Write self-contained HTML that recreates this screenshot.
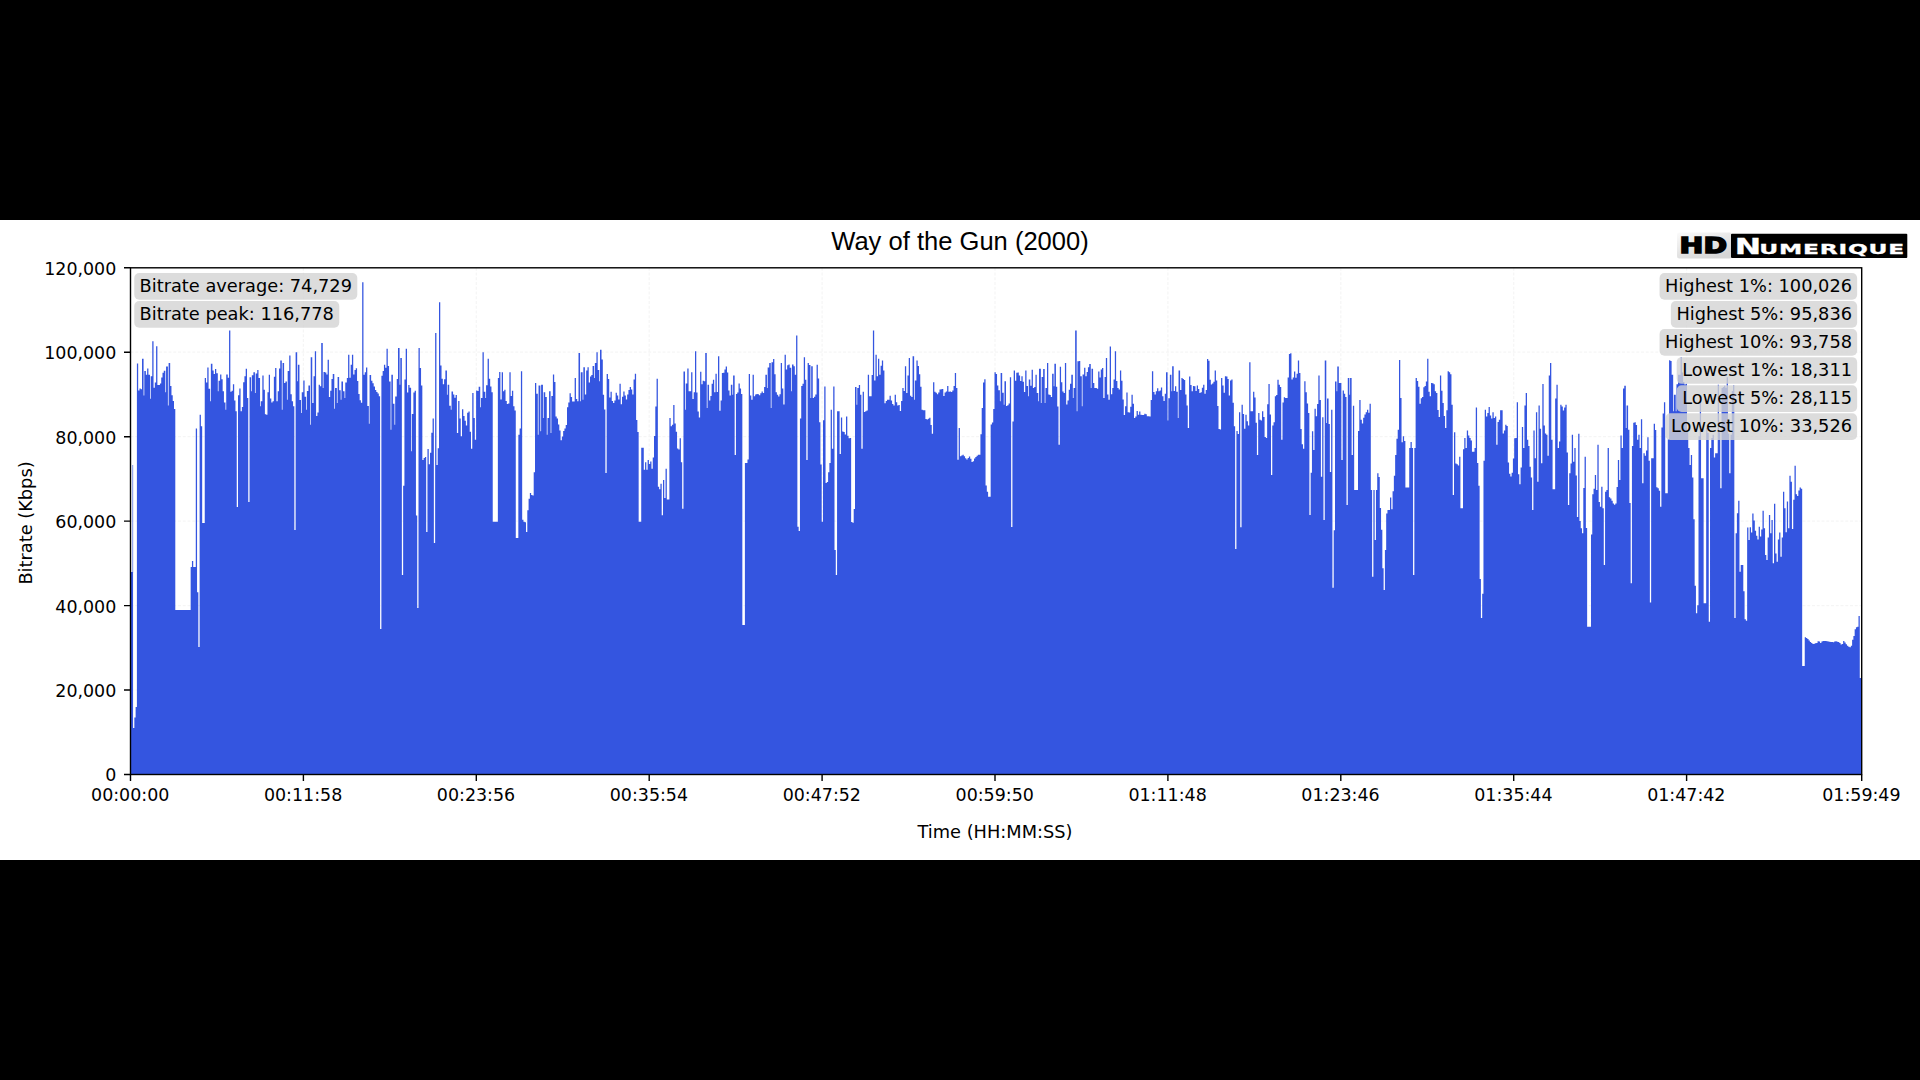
<!DOCTYPE html>
<html lang="en"><head><meta charset="utf-8"><title>Way of the Gun (2000) - Bitrate</title>
<style>
html,body{margin:0;padding:0;background:#000;width:1920px;height:1080px;overflow:hidden}
svg{position:absolute;left:0;top:0;display:block}
text{font-family:"DejaVu Sans","Liberation Sans",sans-serif;fill:#000}
.t{font-size:17.78px}
.k{font-size:17.45px}
.title{font-family:"Liberation Sans",Arial,sans-serif;font-size:25.55px}
.logo{font-family:"Liberation Sans",Arial,sans-serif;font-weight:bold}
</style></head><body>
<svg width="1920" height="1080" viewBox="0 0 1920 1080">
<rect x="0" y="0" width="1920" height="1080" fill="#000"/>
<rect x="0" y="220" width="1920" height="640" fill="#fff"/>
<path d="M130.5,690.0H1861.7M130.5,605.6H1861.7M130.5,521.1H1861.7M130.5,436.7H1861.7M130.5,352.2H1861.7M303.4,267.8V774.5M476.3,267.8V774.5M649.2,267.8V774.5M822.1,267.8V774.5M995.0,267.8V774.5M1167.9,267.8V774.5M1340.8,267.8V774.5M1513.7,267.8V774.5M1686.6,267.8V774.5" stroke="#a0a0a0" stroke-opacity="0.10" stroke-width="1.2" stroke-dasharray="3,1.75" fill="none"/>
<defs><clipPath id="axclip"><rect x="130.5" y="267.8" width="1731.2" height="506.7"/></clipPath></defs>
<g clip-path="url(#axclip)"><path d="M130.5,774.5V572H133.06V728H134.34V717.5H135.62V707H136.9V363.4H138.18V390.4H139.46V388.6H140.74V389.2H142.02V358.8H143.58V395.5H144.3V370.9H145.86V374.8H147.14V368.6H148.42V374.7H149.98V398.8H150.7V376.3H152.26V341.3H153.54V387.7H154.82V382.6H156.1V346.3H157.38V385H158.66V385.1H159.94V383.4H161.22V377.6H162.5V372.8H163.78V370.7H165.34V392.2H166.06V366.5H167.9V405.5H168.62V363H170.18V386.1H171.46V395.2H172.74V401H174.02V409.1H175.3V610H190.66V567H191.94V561H193.22V567H195.78V428.5H197.06V592.2H198.34V647H199.62V414.7H200.9V426.3H202.18V523H204.74V378.1H206.02V382.5H207.3V367.6H208.58V388.8H210.14V401.3H210.86V363.7H212.42V370.5H213.7V374.1H214.98V368.9H216.26V373.2H217.82V391.3H218.54V380.8H220.1V374.5H221.38V379.3H222.66V391.3H223.94V402.5H225.5V409.7H226.22V374.5H227.78V377.8H229.06V330.5H230.34V391.7H231.62V390.8H232.9V384.3H234.18V400.5H235.46V411.3H236.74V507H238.02V395.2H239.3V388.5H240.58V411.2H241.86V407H243.14V382.3H244.42V376.2H245.7V368.8H246.98V398H248.26V502H249.54V377.3H251.1V391.3H251.82V375.3H253.38V372.2H254.94V393H255.66V373.6H257.22V370H258.5V378.1H260.06V406.3H260.78V401.3H262.34V375.5H263.62V389.7H264.9V414.2H266.18V414.8H267.46V392.2H268.74V374.7H270.02V398.4H271.3V402.6H272.58V401.2H273.86V376.8H275.14V367.9H276.42V401.2H277.7V391.3H278.98V368.4H280.26V360.6H281.82V409.7H282.54V363H284.1V382.9H285.38V381.4H286.94V399.7H287.66V371.1H289.22V355.6H290.5V394.2H291.78V401.2H293.06V406.3H294.34V530H295.62V352.2H297.18V381.3H297.9V364.7H299.46V399.9H301.02V413H301.74V392.2H303.3V380.5H304.58V396.8H306.14V409.7H306.86V390.9H308.42V385.5H309.98V424.7H310.7V357.2H312.26V402.9H313.54V376.3H314.82V351.3H316.1V416H317.38V412.4H318.66V384.8H319.94V386.2H321.22V343H322.78V388H323.5V372H325.06V372.4H326.34V374.5H327.62V359.7H328.9V396.9H330.18V390.7H331.46V378.9H332.74V373.9H334.3V408.8H335.02V388H336.86V403H337.58V376.9H339.14V390.3H340.7V399.7H341.42V381.5H342.98V391.3H344.54V398H345.26V382.6H346.82V378H348.1V354.7H349.38V377.8H350.66V364.7H351.94V354.7H353.22V374.5H354.5V370H355.78V368.2H357.06V380.9H358.34V393.9H359.62V400.3H360.9V402.8H362.18V282.2H363.46V374.7H364.74V372.3H366.02V367.6H367.3V406H368.86V423.8H369.58V375H371.14V380.8H372.42V383.2H373.7V386.5H374.98V389.9H376.26V391.9H377.54V393.6H378.82V396.3H380.1V629H381.38V375.8H382.66V371.1H383.94V364.8H385.22V367.8H386.5V348.8H387.78V366.1H389.06V381.5H390.62V429.7H391.34V374.7H392.9V403.7H394.46V424.7H395.18V396.4H396.74V379.1H398.02V348H399.58V384.7H400.3V358H401.86V575H403.14V485.7H404.42V379.4H405.7V348.8H406.98V392.6H408.26V384.9H409.54V387.8H411.1V451.3H411.82V414H413.38V392.6H414.66V390.7H415.94V515.5H417.22V608H418.5V348H419.78V368H421.06V385.4H422.34V459.9H423.62V458.1H424.9V457.1H426.18V532H427.46V449H428.74V464.3H430.02V452.8H431.3V432.7H432.58V418.4H433.86V543H435.14V333H436.42V465H437.7V448.3H438.98V302.2H440.26V365.4H441.54V378.7H442.82V384.3H444.1V379.3H445.38V370.4H446.94V394.7H447.66V384.7H449.22V405.7H450.78V409.7H451.5V391.4H453.06V394.6H454.34V397.8H455.62V394.9H456.9V433.1H458.18V401H459.46V418.5H460.74V436.3H462.02V409.2H463.3V415.9H464.58V420.8H465.86V425.6H467.14V412.7H468.42V411.6H469.7V431.8H470.98V448.8H472.26V393H473.54V417.9H474.82V439.7H476.1V390.6H477.38V391H478.66V386.7H480.22V407.2H480.94V398H482.5V352.2H483.78V391.7H485.34V398H486.06V385.3H487.62V358.8H488.9V378.7H490.18V386.6H491.46V392.2H492.74V521.7H497.86V378.1H499.14V371.9H500.42V399.5H501.7V372.2H502.98V391.2H504.26V389.8H505.54V400.9H506.82V404.1H508.1V403.4H509.38V372.2H510.66V396H511.94V390.8H513.22V406.3H514.5V410.4H515.78V538H518.34V434.7H519.62V428.5H520.9V371.3H522.18V519.7H523.46V521.8H524.74V522.3H526.02V532H527.3V510.2H528.58V498.8H529.86V493.1H531.14V494.9H532.42V495.4H533.7V472.2H534.98V383H536.26V393.8H537.82V434.7H538.54V385.5H540.38V431.3H541.1V384.7H542.94V418H543.66V392.3H545.22V396.9H546.78V434.7H547.5V418H549.06V391.3H550.62V433H551.34V395.9H552.9V374.5H554.18V382.1H555.46V416.5H556.74V418.4H558.02V424.6H559.3V430.5H560.58V440.3H561.86V436.5H563.14V431H564.42V428.5H565.7V425H566.98V407.3H568.26V402.5H569.54V393.2H570.82V397H572.1V401.5H574.66V378H575.94V399.1H577.22V401.3H578.5V353H580.06V401.3H580.78V372.2H582.62V399.7H583.34V367.2H584.9V394.5H586.18V370.4H587.46V367.2H588.74V382.4H590.02V376.4H591.3V375.1H592.58V366H594.14V378H594.86V362.9H596.42V352.3H597.7V370.1H599.26V381.3H599.98V349.7H601.54V359.5H602.82V394.7H604.1V409.5H605.38V473H606.66V373.9H607.94V379H609.22V397.5H610.5V391.8H611.78V400.9H613.06V403H614.34V400.5H615.62V392.7H616.9V395.4H618.18V399.6H619.46V383.8H620.74V404.2H622.02V396.8H623.3V391.6H624.58V395.6H625.86V399.4H627.14V394.5H628.42V390H629.7V387.1H630.98V389.5H632.26V394.5H633.54V379.6H634.82V373.8H636.1V419.9H637.38V431.9H638.66V521.7H641.22V447.7H643.78V469.8H645.06V462.3H646.34V469.8H647.62V460H648.9V464.1H650.18V461.5H651.46V468.8H652.74V457.6H654.02V436H655.3V406.5H656.58V378.8H657.86V486.8H659.14V489.2H660.42V483.7H661.7V515.2H662.98V480H664.26V498H665.54V468.8H666.82V499.5H669.38V418H670.66V426.2H671.94V424.8H673.22V405.1H674.5V423.6H675.78V431.7H677.06V448.6H678.34V449.4H679.62V438.3H680.9V462.3H682.18V508.7H683.46V371.4H685.02V409.7H685.74V383.4H687.3V368.4H688.58V391.3H691.14V372.2H692.42V399.1H693.7V392.3H694.98V351.3H696.26V392.6H697.54V411.5H698.82V417.4H700.1V371.8H701.38V384.3H702.66V380.7H703.94V381.2H705.22V353H706.78V408H707.5V384.7H709.06V400.4H710.34V395.9H711.62V383.7H712.9V379.7H714.18V392.2H715.46V373.8H716.74V392.1H718.02V356.3H719.3V410.7H720.58V400.5H721.86V373.1H723.14V372.8H724.42V369.6H725.7V366.5H726.98V372.6H728.26V390.4H729.54V395.4H730.82V384.7H732.38V394.7H733.1V375.5H734.66V455H735.94V394.1H737.22V392.6H738.5V383.5H739.78V388.4H741.06V394H742.34V625H744.9V463H747.46V459.5H748.74V373.9H750.02V395.4H751.3V399.7H752.58V374.7H753.86V396.2H755.14V394.6H756.42V394H757.7V394.3H758.98V395.3H760.26V393.2H761.54V391.4H762.82V392.9H764.1V386.9H765.38V374.7H766.94V388H767.66V367.6H769.22V363.1H770.78V408H771.5V362.3H773.06V359.1H774.34V374.3H775.62V392.2H776.9V394.8H778.18V396.5H779.46V394.3H780.74V363H782.02V388.5H783.3V404.6H784.58V354.7H785.86V369.5H787.14V365.3H788.42V364.4H789.7V367.7H791.26V391.3H791.98V364.4H793.54V366.2H794.82V374.7H796.1V335.5H797.38V526.8H798.66V531H799.94V418.4H801.22V386H802.5V383.8H803.78V357.2H805.06V379.7H806.34V460H807.62V363.1H808.9V365H810.46V398H811.18V366.3H812.74V397.9H814.02V396.8H815.3V394.5H816.58V364.7H817.86V378.4H819.14V422.2H820.42V464.4H821.7V521.7H822.98V420.2H824.26V386.6H825.54V483H826.82V482.1H828.1V472.3H829.38V463H830.66V409.8H831.94V448.8H833.22V386.5H834.5V549.9H835.78V575H837.06V411.3H839.62V454H840.9V417.4H842.18V431.4H843.46V432.1H844.74V434.5H846.02V416.4H847.3V435.7H848.58V438.3H849.86V438.1H851.14V521.9H852.42V522.7H853.7V509H854.98V387.1H856.54V404.7H857.26V388H858.82V384.9H860.1V394.7H861.38V448.8H862.66V391.7H863.94V412.1H865.22V411.3H866.5V410.5H867.78V374.7H869.06V396.3H871.62V375H872.9V330.5H874.18V380.5H875.46V354.7H876.74V376.2H878.02V358.8H879.3V374.7H880.58V365.8H881.86V360.5H883.14V370.4H884.42V403.3H885.7V400.9H886.98V399.7H889.54V395.8H890.82V400.6H892.1V404H893.38V405.4H894.66V394.7H895.94V402.2H897.22V405.4H898.5V405.1H899.78V411.1H901.06V400.9H902.34V388.1H903.62V391.1H904.9V366.3H906.18V392.9H907.46V375.5H908.74V358.1H910.02V395.8H911.3V397.1H912.58V356.3H914.14V399.7H914.86V380.6H916.42V360.5H917.7V365.9H918.98V374.3H920.26V386.7H921.54V409.7H922.82V410.3H925.38V419H926.66V419.5H927.94V418.7H929.22V417.8H930.5V425.1H931.78V433.8H933.06V382.2H934.34V391.7H935.62V392.8H936.9V394.2H938.18V392.5H939.46V389.4H940.74V389.2H942.02V388.9H943.3V396H944.58V392.5H945.86V391.4H947.14V385.9H948.42V391.7H949.7V391.4H950.98V392.1H952.26V390.6H953.54V386.1H954.82V373H956.1V388H957.38V459.7H958.66V428H959.94V456.3H961.22V455.5H962.5V454.7H963.78V456.3H965.06V458.3H966.34V459.6H967.62V458.1H968.9V456.4H970.18V458.8H971.46V461.9H972.74V461.2H974.02V458.5H975.3V457.1H976.58V455.8H977.86V454.7H980.42V434.3H981.7V408.1H982.98V382.4H984.26V379.2H985.54V485.6H986.82V491.7H988.1V496.7H990.66V424.5H991.94V422.6H993.22V409.1H994.5V372.3H995.78V374.1H997.06V385.5H998.34V390.2H999.9V401.3H1000.62V373H1002.18V392.8H1003.74V404.7H1004.46V381.3H1006.02V406H1007.3V405.3H1008.58V403.4H1009.86V377.2H1011.14V527H1012.42V421.6H1013.7V370.6H1014.98V380.8H1016.26V372.8H1017.54V372.5H1018.82V375.4H1020.1V381H1021.38V376.3H1022.66V381.7H1023.94V391.9H1025.22V370.5H1026.5V386.1H1028.06V396.3H1028.78V379.4H1030.34V385.8H1031.62V369.7H1032.9V387.9H1034.18V387.1H1035.46V374.7H1036.74V393H1038.3V401.3H1039.02V368.8H1040.86V403H1041.58V377.1H1043.14V368.9H1044.7V403H1045.42V388H1046.98V363H1048.26V394.5H1049.54V395.1H1050.82V396.9H1052.1V373.8H1053.66V386.3H1054.38V363.8H1055.94V386.8H1057.22V406.6H1058.5V444.7H1059.78V366.8H1061.06V382.3H1062.34V391.4H1063.62V392.9H1064.9V363H1066.18V404.4H1067.46V400.5H1068.74V389.7H1070.02V383.7H1071.3V374.7H1072.86V398H1073.58V388H1075.14V330.5H1076.7V411.3H1077.42V361.3H1078.98V361H1080.26V376.3H1081.82V406.3H1082.54V374.5H1084.1V367.8H1085.38V376.2H1086.66V371.9H1087.94V367.2H1089.22V364.1H1090.78V388H1091.5V368.7H1093.06V383H1094.34V388H1096.9V388.8H1098.18V371.4H1099.46V377.5H1100.74V369.5H1102.02V368.1H1103.3V398H1104.58V377H1105.86V358.1H1107.14V394.6H1108.42V399.7H1109.7V346.4H1110.98V394.2H1112.26V388.1H1113.54V379.5H1114.82V351.3H1116.1V380.9H1117.38V388.1H1118.66V389.5H1119.94V370.5H1121.22V380.8H1122.5V399.5H1123.78V415H1125.06V406.3H1126.34V392.4H1127.62V412.2H1128.9V412.4H1130.18V406.7H1131.46V394.7H1132.74V403.8H1134.02V417.9H1135.3V416.5H1136.58V411H1137.86V414.8H1139.14V411.6H1140.42V414.7H1141.7V414.9H1142.98V415H1144.26V413.7H1145.54V414.2H1146.82V416.3H1149.38V416.6H1150.66V400.1H1151.94V371.3H1153.22V391.9H1154.5V394.5H1155.78V391.3H1157.06V388.2H1158.34V391.3H1159.62V390.4H1160.9V387.5H1162.18V396.2H1163.46V401.1H1164.74V393.7H1166.02V372.2H1167.58V420.5H1168.3V398.2H1169.86V374.7H1171.42V391.3H1172.14V366.3H1173.7V391H1174.98V386.3H1176.26V391.7H1177.82V418H1178.54V370.5H1180.1V390.1H1181.38V378.1H1182.66V379.1H1183.94V380H1185.22V394.4H1186.5V405.5H1187.78V427.9H1189.06V376.4H1190.34V385H1191.62V391.2H1192.9V385.9H1194.18V386.3H1195.46V391H1196.74V385.6H1198.02V389.1H1199.3V392.9H1200.58V392.2H1201.86V387.8H1203.14V384.7H1204.42V393.8H1205.7V389.9H1206.98V359H1208.26V360.8H1209.54V379.7H1210.82V384.6H1212.1V383.4H1213.38V381.8H1214.66V370.5H1215.94V380.4H1217.22V405.9H1218.5V429.1H1219.78V429.4H1221.06V378.1H1222.34V385.6H1223.62V392.7H1224.9V376.3H1226.18V376.5H1227.46V378.9H1228.74V395.4H1230.02V380.5H1231.3V379.6H1232.58V402.8H1233.86V426.3H1235.14V549H1236.42V431H1237.7V434.1H1238.98V412.2H1240.26V527.3H1241.54V404.7H1242.82V413.9H1244.1V428.8H1245.38V414.7H1246.66V421.2H1247.94V425.4H1249.22V362.2H1250.5V411.3H1253.06V391.8H1254.34V397.4H1255.62V422.7H1256.9V455H1258.18V413H1259.46V419.7H1260.74V420.4H1262.02V411.3H1263.3V417H1264.58V437H1265.86V438H1267.14V404.3H1268.42V383.9H1269.7V414.4H1270.98V475H1272.26V425.6H1273.54V422.2H1274.82V396.3H1276.1V394.9H1277.38V379.7H1278.66V384.7H1279.94V387H1281.22V439.7H1282.5V402.5H1283.78V397.2H1285.06V397.9H1286.34V398H1287.62V377.6H1288.9V353.9H1290.18V353.2H1291.46V379.6H1292.74V377.4H1294.02V371.4H1295.3V377.7H1296.58V373.7H1297.86V360.6H1299.14V373H1300.42V429H1301.7V444.2H1302.98V448.8H1304.26V381.3H1305.54V392.2H1306.82V403.4H1308.1V412.9H1309.38V515H1310.66V472.8H1311.94V431.3H1313.22V450H1314.5V408.8H1315.78V416.3H1317.06V404.1H1318.34V375.6H1319.62V400.1H1320.9V476.7H1322.18V417.2H1323.46V520H1324.74V360.6H1326.3V423H1327.02V398.4H1328.58V424H1329.86V472H1331.14V409.7H1332.42V587.8H1333.7V530.2H1334.98V381.4H1336.54V391.3H1337.26V366.4H1338.82V383H1341.38V460H1342.66V390.6H1343.94V393.8H1345.22V397.1H1346.5V505H1347.78V378H1349.34V394.7H1350.06V378H1351.62V455H1352.9V405.7H1354.18V490H1358.02V431H1359.3V400.1H1360.58V419.8H1361.86V423.4H1363.14V417.8H1364.42V414.6H1365.7V412.2H1366.98V409.8H1368.26V412.7H1369.54V403.8H1370.82V490H1372.1V576.7H1373.38V490H1374.66V540H1375.94V490H1377.22V473.3H1378.5V476.9H1379.78V507.9H1381.06V529.7H1382.34V568.3H1383.62V590H1384.9V550H1386.18V513.5H1387.46V510H1390.02V497.6H1391.3V509.3H1392.58V491.3H1393.86V475.8H1395.14V454.9H1396.42V438.8H1397.7V429.7H1398.98V359.9H1400.26V398H1401.54V442.2H1402.82V436.3H1404.1V441H1405.38V487.5H1409.22V448H1410.5V441.9H1411.78V448H1413.06V575H1414.34V448H1415.62V378H1416.9V380.9H1418.18V386.7H1419.46V403.8H1420.74V398.2H1422.02V397.1H1423.3V387.2H1424.58V386.1H1425.86V381.5H1427.14V358.8H1428.42V391.7H1429.7V396.2H1430.98V383H1432.26V383.3H1433.54V384.3H1434.82V391.3H1436.1V392.9H1437.38V410H1438.66V417.1H1439.94V375.6H1441.22V390.7H1442.5V403H1443.78V415.9H1445.06V428H1446.34V410.3H1447.62V371.3H1448.9V372.2H1450.18V374.3H1451.46V404.8H1452.74V495H1454.02V432.2H1455.3V463.4H1456.58V464.3H1457.86V465.4H1459.14V456.7H1460.42V508.3H1462.98V449.2H1464.26V438H1465.54V448H1466.82V430.6H1468.1V435.5H1469.38V438H1470.66V440.5H1471.94V451.7H1474.5V448H1475.78V407.6H1477.06V463.1H1478.34V485.8H1479.62V579H1480.9V618H1482.18V593.8H1483.46V460.8H1484.74V409.7H1486.02V416.4H1487.3V413.1H1488.58V407.1H1489.86V415.6H1491.14V418.6H1492.42V412.2H1493.7V417.9H1494.98V416.5H1496.26V444.7H1497.54V421.9H1498.82V419.7H1500.1V410.3H1502.66V433.4H1503.94V430.6H1505.22V424.7H1506.5V426.1H1507.78V462.4H1509.06V473.7H1510.34V476.6H1511.62V472.7H1512.9V458.5H1514.18V438.3H1515.46V438H1516.74V402.2H1518.02V474.2H1519.3V484.2H1520.58V467.4H1521.86V427H1523.14V448H1524.42V405.4H1525.7V393.1H1526.98V439.7H1528.26V445.9H1529.54V466.7H1530.82V477.5H1532.1V510H1533.38V430.5H1534.66V458.3H1535.94V412.2H1537.22V481.7H1538.5V405.6H1539.78V428.8H1541.06V463.3H1542.34V383.9H1543.62V425.6H1544.9V433.6H1546.18V434.7H1547.46V455.8H1548.74V375.6H1550.02V363H1551.3V439.7H1552.58V489.2H1555.14V398.6H1556.42V384.7H1557.7V448H1558.98V441.4H1560.26V404.7H1561.54V406.5H1562.82V410.4H1564.1V407.4H1565.38V404.7H1566.66V452.5H1567.94V505H1569.22V473.3H1570.5V463.6H1571.78V434.7H1573.06V461.7H1574.34V448H1575.62V475.4H1576.9V516.9H1578.18V433.8H1579.46V521.1H1580.74V528.3H1582.02V533.3H1583.3V487.9H1584.58V456.7H1585.86V527.9H1587.14V626.7H1590.98V534.6H1592.26V494.2H1593.54V488.8H1594.82V475H1596.1V490H1597.38V444.7H1598.66V501.9H1599.94V506.7H1601.22V486.7H1602.5V508.3H1603.78V565H1605.06V491.8H1606.34V490H1607.62V448H1608.9V497.3H1610.18V498.5H1611.46V500.8H1612.74V503.5H1614.02V504.7H1615.3V503.6H1616.58V487.1H1617.86V460H1619.14V480H1620.42V435.5H1621.7V448H1622.98V388.6H1624.26V385.7H1625.82V428H1626.54V405.6H1628.1V429.7H1629.38V503.1H1630.66V583.3H1631.94V446.1H1633.22V422.8H1634.5V422.3H1635.78V425.1H1637.06V439.7H1638.34V434.7H1639.62V448H1640.9V419.2H1642.18V483.3H1643.46V453.3H1644.74V455.8H1646.02V450.4H1647.3V437.2H1648.58V460.8H1649.86V602.5H1651.14V458.3H1653.7V423.8H1654.98V429.9H1656.26V487.2H1657.54V488.3H1658.82V490.8H1660.1V506.7H1661.38V427.4H1662.66V413.6H1663.94V402.2H1665.22V493.3H1667.78V439.3H1669.06V360.2H1670.34V360.9H1671.62V374.7H1673.18V411.3H1673.9V394.7H1675.74V411.3H1676.46V384.2H1678.02V374.7H1680.58V357.2H1681.86V372.6H1683.14V382H1684.42V384.5H1685.7V383.8H1686.98V432.2H1688.26V448H1689.54V465H1690.82V455H1692.1V477.5H1693.38V519.2H1694.66V585.8H1695.94V613.3H1697.22V605.3H1698.5V436.3H1699.78V401.3H1701.06V478.3H1703.62V603.3H1706.18V428H1707.46V433H1708.74V621.7H1710.02V448H1711.3V438H1712.58V434.7H1713.86V457.5H1715.14V453.3H1717.7V384.7H1718.98V432.2H1720.26V488.2H1721.54V388H1722.82V387H1724.1V385.8H1725.38V387.8H1726.66V377.2H1727.94V433.4H1729.22V473.3H1730.5V434.7H1731.78V390.9H1733.06V385.3H1734.34V618H1735.62V533.3H1736.9V513.3H1738.18V500.8H1739.46V571.7H1740.74V565H1743.3V591.2H1744.58V619.2H1745.86V620.8H1747.14V527.6H1748.42V540H1749.7V527.2H1750.98V532.5H1752.26V513.5H1753.54V520.4H1754.82V530.8H1756.1V535.7H1757.38V539.5H1758.66V526.7H1759.94V536.6H1761.22V529.4H1762.5V510.8H1763.78V528.3H1765.06V555H1766.34V560H1767.62V537.5H1768.9V515.1H1770.18V533.3H1771.46V520H1772.74V563.3H1774.02V503.8H1775.3V553.6H1776.58V561.7H1777.86V539.4H1779.14V532.6H1780.42V556.7H1781.7V537.6H1782.98V491.8H1784.26V508.3H1785.54V532.2H1786.82V501.6H1788.1V528.3H1789.38V475.8H1790.66V481.7H1791.94V529.1H1793.22V499.7H1794.5V465.8H1795.78V494.2H1797.06V496H1798.34V490.4H1799.62V487.6H1800.9V488.8H1802.18V666H1804.74V637.2H1806.02V638.1H1807.3V639.1H1808.58V640.5H1809.86V641.9H1811.14V643H1812.42V644H1813.7V643.8H1814.98V643.3H1816.26V642.9H1817.54V641.2H1818.82V641.6H1820.1V643.1H1821.38V641.6H1822.66V641H1826.5V641.2H1827.78V641.5H1829.06V641.8H1830.34V642H1831.62V642.1H1832.9V642.3H1834.18V641.4H1835.46V641.2H1836.74V641.7H1838.02V642.1H1839.3V643H1840.58V644.6H1841.86V644.1H1843.14V641.1H1844.42V642.6H1845.7V644.3H1846.98V645.7H1848.26V646.7H1849.54V647.3H1850.82V645.8H1852.1V639.8H1853.38V635.9H1854.66V629.3H1855.94V627.3H1857.22V626.7H1858.5V616H1859.78V678H1861.7V774.5Z" fill="#3455e0"/></g>
<rect x="132.1" y="465" width="1.1" height="107.5" fill="#3455e0" fill-opacity="0.55"/>
<rect x="130.5" y="267.8" width="1731.2" height="506.7" fill="none" stroke="#000" stroke-width="1.4"/>
<path d="M130.5,774.5h-6.5M130.5,690.0h-6.5M130.5,605.6h-6.5M130.5,521.1h-6.5M130.5,436.7h-6.5M130.5,352.2h-6.5M130.5,267.8h-6.5M130.5,774.5v6.5M303.4,774.5v6.5M476.3,774.5v6.5M649.2,774.5v6.5M822.1,774.5v6.5M995.0,774.5v6.5M1167.9,774.5v6.5M1340.8,774.5v6.5M1513.7,774.5v6.5M1686.6,774.5v6.5M1861.7,774.5v6.5" stroke="#000" stroke-width="1.4" fill="none"/>
<text class="k" x="116.3" y="781.4" text-anchor="end">0</text>
<text class="k" x="116.3" y="696.9" text-anchor="end">20,000</text>
<text class="k" x="116.3" y="612.5" text-anchor="end">40,000</text>
<text class="k" x="116.3" y="528.0" text-anchor="end">60,000</text>
<text class="k" x="116.3" y="443.6" text-anchor="end">80,000</text>
<text class="k" x="116.3" y="359.1" text-anchor="end">100,000</text>
<text class="k" x="116.3" y="274.7" text-anchor="end">120,000</text>
<text class="k" x="130.2" y="800.8" text-anchor="middle">00:00:00</text>
<text class="k" x="303.1" y="800.8" text-anchor="middle">00:11:58</text>
<text class="k" x="476.0" y="800.8" text-anchor="middle">00:23:56</text>
<text class="k" x="648.9" y="800.8" text-anchor="middle">00:35:54</text>
<text class="k" x="821.8" y="800.8" text-anchor="middle">00:47:52</text>
<text class="k" x="994.7" y="800.8" text-anchor="middle">00:59:50</text>
<text class="k" x="1167.6" y="800.8" text-anchor="middle">01:11:48</text>
<text class="k" x="1340.5" y="800.8" text-anchor="middle">01:23:46</text>
<text class="k" x="1513.4" y="800.8" text-anchor="middle">01:35:44</text>
<text class="k" x="1686.3" y="800.8" text-anchor="middle">01:47:42</text>
<text class="k" x="1861.4" y="800.8" text-anchor="middle">01:59:49</text>
<text class="t" x="995" y="838" text-anchor="middle">Time (HH:MM:SS)</text>
<text class="t" transform="translate(31.5,523) rotate(-90)" text-anchor="middle">Bitrate (Kbps)</text>
<text class="title" x="960" y="249.8" text-anchor="middle">Way of the Gun (2000)</text>
<rect x="134.27" y="273.00" width="223.02" height="26.7" rx="5" fill="#d3d3d3" fill-opacity="0.8"/>
<text id="lt0" class="t" x="139.6" y="291.50">Bitrate average: 74,729</text>
<rect x="134.27" y="301.05" width="204.97" height="26.7" rx="5" fill="#d3d3d3" fill-opacity="0.8"/>
<text id="lt1" class="t" x="139.6" y="319.55">Bitrate peak: 116,778</text>
<rect x="1659.55" y="273.00" width="197.58" height="26.7" rx="5" fill="#d3d3d3" fill-opacity="0.8"/>
<text id="rt0" class="t" x="1852.0" y="291.50" text-anchor="end">Highest 1%: 100,026</text>
<rect x="1670.86" y="301.05" width="186.27" height="26.7" rx="5" fill="#d3d3d3" fill-opacity="0.8"/>
<text id="rt1" class="t" x="1852.0" y="319.55" text-anchor="end">Highest 5%: 95,836</text>
<rect x="1659.55" y="329.10" width="197.58" height="26.7" rx="5" fill="#d3d3d3" fill-opacity="0.8"/>
<text id="rt2" class="t" x="1852.0" y="347.60" text-anchor="end">Highest 10%: 93,758</text>
<rect x="1676.70" y="357.15" width="180.43" height="26.7" rx="5" fill="#d3d3d3" fill-opacity="0.8"/>
<text id="rt3" class="t" x="1852.0" y="375.65" text-anchor="end">Lowest 1%: 18,311</text>
<rect x="1676.70" y="385.20" width="180.43" height="26.7" rx="5" fill="#d3d3d3" fill-opacity="0.8"/>
<text id="rt4" class="t" x="1852.0" y="403.70" text-anchor="end">Lowest 5%: 28,115</text>
<rect x="1665.39" y="413.25" width="191.74" height="26.7" rx="5" fill="#d3d3d3" fill-opacity="0.8"/>
<text id="rt5" class="t" x="1852.0" y="431.75" text-anchor="end">Lowest 10%: 33,526</text>
<defs><linearGradient id="lg" x1="0" y1="0" x2="0.6" y2="1"><stop offset="0" stop-color="#fbfbfb"/><stop offset="1" stop-color="#d6d6d6"/></linearGradient></defs>
<g id="logo">
<rect x="1677" y="232.6" width="55" height="26" rx="2.5" fill="url(#lg)"/>
<rect x="1731" y="233.7" width="176.3" height="24.4" rx="1" fill="#000"/>
<text transform="translate(1679.6,253.4) scale(1.33,1)" font-family="DejaVu Sans, Liberation Sans, sans-serif" font-weight="bold" font-size="21.4" stroke="#000" stroke-width="1.5" style="fill:#000">HD</text>
<text transform="translate(1734.8,254) scale(1.6,1)" font-weight="bold" stroke="#fff" stroke-width="0.3" style="fill:#fff"><tspan font-family="DejaVu Sans Condensed, DejaVu Sans, Liberation Sans, sans-serif" font-size="21.9">N</tspan><tspan font-family="DejaVu Sans, Liberation Sans, sans-serif" font-size="14.6" dx="-1.2" letter-spacing="0.48">UMERIQUE</tspan></text>
</g>
</svg></body></html>
